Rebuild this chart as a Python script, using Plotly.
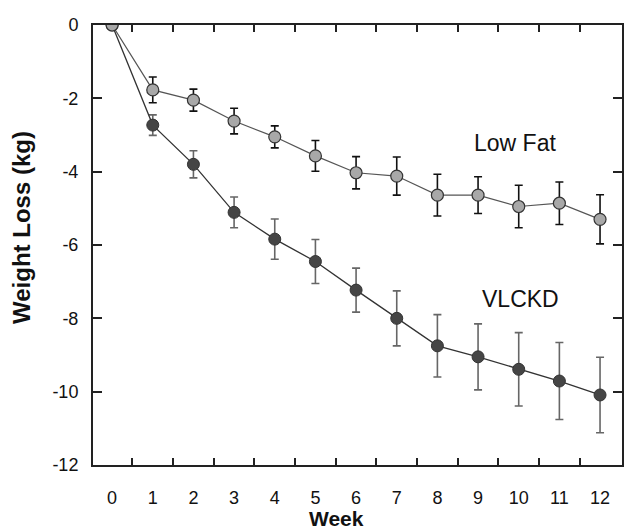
import plotly.graph_objects as go

weeks = [0, 1, 2, 3, 4, 5, 6, 7, 8, 9, 10, 11, 12]
low_fat = [0, -1.77, -2.05, -2.62, -3.05, -3.57, -4.03, -4.12, -4.64, -4.64, -4.95, -4.86, -5.30]
low_fat_err = [0, 0.35, 0.30, 0.35, 0.30, 0.42, 0.44, 0.52, 0.57, 0.50, 0.58, 0.58, 0.67]
vlckd = [0, -2.73, -3.80, -5.11, -5.84, -6.45, -7.23, -8.00, -8.75, -9.05, -9.39, -9.71, -10.09]
vlckd_err = [0, 0.28, 0.37, 0.42, 0.55, 0.60, 0.60, 0.75, 0.85, 0.90, 1.00, 1.05, 1.03]
y_ticks = [0, -2, -4, -6, -8, -10, -12]
y_tick_text = ["0", "-2", "-4", "-6", "-8", "-10", "-12"]
minor_x = [0.5, 1.5, 2.5, 3.5, 4.5, 5.5, 6.5, 7.5, 8.5, 9.5, 10.5, 11.5]

FONT = "Liberation Sans, Arial, sans-serif"

fig = go.Figure()
fig.add_trace(go.Scatter(
    x=weeks, y=vlckd, mode="lines+markers", name="VLCKD",
    line=dict(color="#333333", width=1.3),
    marker=dict(symbol="circle", size=12, color="#454545", line=dict(color="#333333", width=1)),
    error_y=dict(type="data", array=vlckd_err, color="#666666", thickness=1.6, width=4),
))
fig.add_trace(go.Scatter(
    x=weeks, y=low_fat, mode="lines+markers", name="Low Fat",
    line=dict(color="#555555", width=1.2),
    marker=dict(symbol="circle", size=12, color="#a8a8a8", line=dict(color="#333333", width=1.2)),
    error_y=dict(type="data", array=low_fat_err, color="#111111", thickness=1.6, width=4),
))

fig.add_annotation(x=8.86, y=-3.22, xref="x", yref="y", text="Low Fat", showarrow=False,
                   xanchor="left", yanchor="middle",
                   font=dict(family=FONT, size=23, color="#111111"))
fig.add_annotation(x=9.05, y=-7.47, xref="x", yref="y", text="VLCKD", showarrow=False,
                   xanchor="left", yanchor="middle",
                   font=dict(family=FONT, size=23, color="#111111"))
fig.add_annotation(x=-0.134, y=0.539, xref="paper", yref="paper", text="<b>Weight Loss (kg)</b>",
                   showarrow=False, textangle=-90, xanchor="center", yanchor="middle",
                   font=dict(family=FONT, size=24, color="#111111"))
fig.add_annotation(x=0.461, y=-0.151, xref="paper", yref="paper", text="<b>Week</b>",
                   showarrow=False, xanchor="center", yanchor="bottom", borderpad=0,
                   font=dict(family=FONT, size=21, color="#111111"))

fig.update_layout(
    width=624, height=532,
    margin=dict(l=93, r=2, t=25, b=67, autoexpand=False),
    plot_bgcolor="white", paper_bgcolor="white",
    showlegend=False,
    font=dict(family=FONT, size=18, color="#111111"),
    xaxis=dict(
        range=[-0.47, 12.54], tickvals=weeks, ticks="", showgrid=False, zeroline=False,
        showline=True, linecolor="#222222", linewidth=2, mirror="ticks",
        tickfont=dict(size=18), ticklabelstandoff=15, automargin=False,
        minor=dict(tickvals=minor_x, ticks="inside", ticklen=7, tickwidth=2, tickcolor="#222222", showgrid=False),
    ),
    yaxis=dict(
        range=[-12, 0], tickvals=y_ticks, ticktext=y_tick_text, ticks="inside", ticklen=9, tickwidth=2,
        tickcolor="#222222", showgrid=False, zeroline=False,
        showline=True, linecolor="#222222", linewidth=2, mirror="ticks",
        tickfont=dict(size=18), ticklabelstandoff=9, automargin=False,
    ),
)

fig.write_html("out.html", config={"displayModeBar": False},
               post_script="document.body.style.margin='0';document.body.style.overflow='hidden';")
